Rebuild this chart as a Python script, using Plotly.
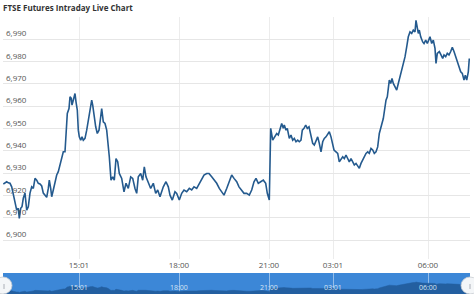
import plotly.graph_objects as go

# ordinal position of each quote along the (gap-less) time axis
bar_pos = [
    3.3, 6.7, 8.3, 10, 11.7, 13.3, 15, 16.7, 18.3, 19.3, 20.7, 22, 23.3, 25, 26.7, 28.3, 30, 31.7,
    33.3, 35, 36.7, 38.3, 40, 41.7, 43.3, 45, 46.7, 48.3, 49.3, 50.7, 51.7, 53.3, 55, 56.7, 58.3,
    60, 61.7, 63.3, 65, 66, 67.3, 69, 70, 71.3, 72, 73.3, 75, 76, 77.3, 78.3, 79.3, 80.7, 82, 83.3,
    85, 86.7, 88.3, 90, 91.7, 92.7, 94, 95.7, 97.3, 99, 100.7, 101.7, 103.3, 105, 106.7, 108.3,
    109.3, 111, 112.7, 114.3, 116, 117.7,
    119.3, 121.7, 124, 126, 128.3, 130.7, 132.7, 135, 136.7, 138.3, 140.7, 142.7, 144.3, 146,
    148.3, 150.7, 153.3, 155.7, 157.7, 160, 163.3, 166, 168.3, 170, 172.3, 175, 176.7, 179.3,
    181.7, 184, 186.7, 189.3, 191.7, 194, 196.7, 199.3, 201.7, 204, 206.7, 209, 211.7, 214,
    216.7, 219.3, 221.7, 224, 226.7, 229.3, 231.7, 234, 236.7, 239, 241.7, 244, 246.7, 249.3,
    251.7, 254, 256, 258.3, 260.7, 263.3, 265.7, 267.3, 269.3,
    270.7, 272.7, 275, 276.7, 278.3, 280, 281.7, 283.3, 284.3, 286, 287.3, 289.3, 291, 292.7,
    294.3, 296, 297.7, 299.3, 301, 302.3, 304, 305.7, 307.3, 309, 310.7, 312.7, 314.3, 316,
    317.7, 319.3, 321, 322.7, 324.3, 326, 327.7, 329.3, 331, 332.7, 334, 336, 337.7, 339.3,
    341, 342.7, 344.3, 346, 347.7, 349.3, 351, 352.7, 354.3, 356, 357.7, 359.3, 361, 362.7,
    364.3, 366, 367.7, 369.3, 371, 372.7, 374.3, 376, 377.7, 379.3,
    383.3, 385, 386, 387.3, 388.3, 389.3, 390.7, 392, 393.3, 395, 396.7, 398.3, 400, 401.7,
    403.3, 405, 406.7, 408.3, 410, 411.7, 413.3, 415, 416, 417.3, 418.3, 419.3, 420.7, 422.7,
    424, 425.7, 427.3, 428.7, 430, 431.7, 433.3, 435, 436, 437.3, 439.3, 441, 442.7, 444,
    445.7, 447.3, 449, 450.7, 452.3, 454, 455.7, 457.3, 459, 460.7, 462.3, 464, 465.3, 466.7,
    468.3, 469.3,
]

price = [
    6925.1, 6926.1, 6925.6, 6925.4, 6923.8, 6920.1, 6915.7, 6913.4, 6914.2, 6909.7, 6914.2, 6914.9,
    6918.7, 6921.0, 6913.4, 6914.9, 6921.0, 6923.8, 6923.1, 6927.6, 6926.8, 6925.4, 6925.1, 6924.2,
    6921.0, 6920.1, 6919.1, 6923.1, 6926.8, 6923.1, 6919.4, 6922.4, 6926.1, 6929.1, 6930.6, 6933.6,
    6935.8, 6939.5, 6939.5, 6946.2, 6956.7, 6958.9, 6964.1, 6963.4, 6960.4, 6962.6, 6965.6, 6961.9,
    6958.2, 6949.2, 6946.2, 6944.7, 6946.2, 6944.7, 6945.5, 6949.2, 6953.7, 6958.2, 6962.6, 6960.4,
    6955.2, 6950.7, 6947.7, 6949.2, 6955.2, 6958.9, 6952.9, 6952.2, 6949.2, 6943.3, 6937.3, 6926.8,
    6928.3, 6926.8, 6936.5, 6935.1,
    6929.8, 6927.6, 6921.6, 6925.4, 6923.1, 6928.3, 6927.6, 6923.1, 6920.9, 6928.3, 6929.8, 6926.8,
    6932.8, 6928.3, 6926.1, 6923.1, 6925.4, 6920.9, 6922.4, 6919.4, 6923.8, 6926.1, 6923.8, 6920.1,
    6917.9, 6921.6, 6920.9, 6917.9, 6920.9, 6922.4, 6921.6, 6923.1, 6922.4, 6923.8, 6923.1, 6925.4,
    6926.8, 6929.1, 6929.8, 6929.8, 6928.3, 6926.8, 6925.4, 6923.1, 6921.6, 6920.1, 6923.1, 6926.8,
    6929.1, 6927.6, 6926.1, 6923.8, 6922.4, 6920.9, 6920.9, 6920.1, 6922.4, 6926.1, 6927.6, 6925.4,
    6926.1, 6926.8, 6925.4, 6920.9, 6917.9,
    6950.0, 6944.7, 6946.2, 6947.7, 6947.0, 6950.0, 6952.2, 6950.0, 6951.5, 6949.2, 6950.0, 6945.5,
    6947.0, 6944.7, 6945.5, 6944.0, 6944.7, 6944.0, 6944.7, 6949.2, 6950.0, 6951.5, 6950.0, 6950.7,
    6947.7, 6943.3, 6942.5, 6944.0, 6946.2, 6943.3, 6939.5, 6944.0, 6945.5, 6946.2, 6947.7, 6948.5,
    6946.2, 6943.3, 6940.3, 6939.5, 6938.8, 6935.0, 6936.5, 6937.3, 6936.5, 6938.0, 6936.5, 6935.0,
    6936.5, 6935.0, 6933.6, 6934.3, 6932.8, 6932.1, 6934.3, 6935.8, 6937.3, 6938.8, 6939.5, 6938.8,
    6941.0, 6940.3, 6938.8, 6939.5, 6941.7, 6947.7,
    6954.4, 6959.6, 6962.6, 6964.1, 6968.6, 6971.6, 6970.1, 6972.3, 6970.1, 6968.6, 6967.1, 6970.1,
    6973.1, 6975.3, 6979.1, 6982.0, 6986.5, 6991.0, 6993.2, 6992.5, 6994.0, 6993.2, 6998.4, 6995.4,
    6992.5, 6994.0, 6991.0, 6988.7, 6988.0, 6989.5, 6988.0, 6989.5, 6991.0, 6988.0, 6989.5, 6985.8,
    6979.1, 6983.6, 6984.4, 6982.9, 6981.3, 6982.9, 6982.1, 6983.6, 6982.9, 6984.4, 6986.3, 6984.4,
    6982.1, 6979.8, 6978.3, 6975.3, 6974.6, 6971.6, 6973.8, 6971.6, 6975.3, 6981.3,
]

time_tick_pos = [79, 179, 269, 333, 428]
time_tick_text = ["15:01", "18:00", "21:00", "03:01", "06:00"]
price_ticks = [6900, 6910, 6920, 6930, 6940, 6950, 6960, 6970, 6980, 6990, 7000]
price_tick_text = ["6,900", "6,910", "6,920", "6,930", "6,940", "6,950", "6,960",
                   "6,970", "6,980", "6,990", ""]

W, H = 474, 294
ML, MR = 3, 4
PW = W - ML - MR


def px_x(p):
    return (p - ML) / PW


def px_y(p):
    return (H - p) / H


fig = go.Figure()

fig.add_trace(go.Scatter(
    x=bar_pos, y=price, mode="lines",
    line=dict(color="#245a8e", width=1.6),
    xaxis="x", yaxis="y", hoverinfo="skip", showlegend=False,
))

fig.add_trace(go.Scatter(
    x=bar_pos, y=price, mode="lines",
    line=dict(color="#235fa0", width=0.5),
    fill="tozeroy", fillcolor="#235fa0",
    xaxis="x2", yaxis="y2", hoverinfo="skip", showlegend=False,
))

shapes = [
    # navigator band
    dict(type="rect", xref="paper", yref="paper", x0=0, x1=1,
         y0=0, y1=px_y(273), fillcolor="#3c87d7", line=dict(width=0), layer="below"),
    # handles
    dict(type="circle", xref="paper", yref="paper",
         x0=px_x(-6), x1=px_x(12), y0=px_y(294), y1=px_y(277),
         fillcolor="#f4f6f8", line=dict(color="#c8ccd0", width=0.8)),
    dict(type="circle", xref="paper", yref="paper",
         x0=px_x(461), x1=px_x(479), y0=px_y(294), y1=px_y(277),
         fillcolor="#f4f6f8", line=dict(color="#c8ccd0", width=0.8)),
    dict(type="line", xref="paper", yref="paper",
         x0=px_x(4), x1=px_x(4), y0=px_y(284), y1=px_y(289),
         line=dict(color="#9aa0a6", width=0.8)),
    dict(type="line", xref="paper", yref="paper",
         x0=px_x(470), x1=px_x(470), y0=px_y(284), y1=px_y(289),
         line=dict(color="#9aa0a6", width=0.8)),
]

annotations = [
    dict(x=p, y=px_y(287.5), xref="x2", yref="paper", text=t, showarrow=False,
         xanchor="center", yanchor="middle",
         font=dict(family="Open Sans", size=7, color="#d6e4f4"))
    for p, t in zip(time_tick_pos, time_tick_text)
]

fig.update_layout(
    width=W, height=H,
    margin=dict(l=ML, r=MR, t=0, b=0),
    paper_bgcolor="white", plot_bgcolor="rgba(0,0,0,0)",
    title=dict(text="FTSE Futures Intraday Live Chart", x=3 / W, xanchor="left",
               xref="container", yref="container", y=1 - 8 / H, yanchor="middle",
               font=dict(family="Open Sans", size=8, color="#333333", weight="bold")),
    xaxis=dict(domain=[0, 1], range=[3, 470], tickvals=time_tick_pos, ticktext=time_tick_text,
               showgrid=True, gridcolor="#ececec", gridwidth=1, zeroline=False, showline=False,
               ticks="", tickfont=dict(family="Open Sans", size=8, color="#555555"),
               anchor="y"),
    yaxis=dict(domain=[px_y(259), px_y(16.7)], range=[6891.5, 7000], tickvals=price_ticks,
               ticktext=price_tick_text, ticklabelposition="inside top",
               showgrid=True, gridcolor="#e6e6e6", gridwidth=1, zeroline=False, showline=False,
               ticks="", tickfont=dict(family="Open Sans", size=8, color="#555555"),
               anchor="x"),
    xaxis2=dict(domain=[0, 1], matches="x", range=[3, 470], tickvals=time_tick_pos,
                showticklabels=False, showgrid=True, gridcolor="rgba(255,255,255,0.45)",
                zeroline=False, showline=False, ticks="", anchor="y2"),
    yaxis2=dict(domain=[0, px_y(273)], range=[6897, 7074], showgrid=False,
                showticklabels=False, zeroline=False, showline=False, ticks="", anchor="x2"),
    shapes=shapes,
    annotations=annotations,
)

fig.write_html("out.html")
